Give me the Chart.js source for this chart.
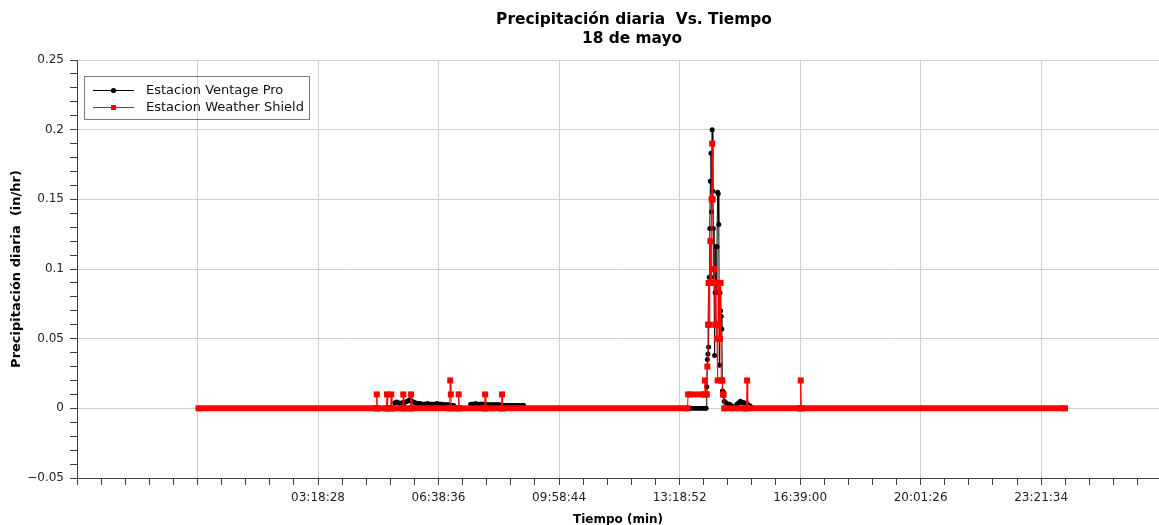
<!DOCTYPE html>
<html><head><meta charset="utf-8">
<script src="https://cdn.jsdelivr.net/npm/chart.js@4.4.1/dist/chart.umd.min.js"></script>
<style>html,body{margin:0;padding:0;background:#fff;}#wrap{width:1159px;height:525px;}</style>
</head><body><div id="wrap"><canvas id="c" width="1159" height="525"></canvas></div>
<script>
// ---- text ----
const chartTitle = ['Precipitación diaria  Vs. Tiempo', '18 de mayo'];
const xAxisTitle = 'Tiempo (min)';
const yAxisTitle = 'Precipitación diaria  (in/hr)';
const seriesNames = ['Estacion Ventage Pro', 'Estacion Weather Shield'];

// ---- axes (x in minutes of the day) ----
const xTickLabels = ['', '', '03:18:28', '06:38:36', '09:58:44', '13:18:52', '16:39:00', '20:01:26', '23:21:34'];
const xMin = -201.8, xMax = 1595, xMajorStep = 200.133, xMinorPerMajor = 5;
const yTickLabels = ['\u22120.05', '0', '0.05', '0.1', '0.15', '0.2', '0.25'];
const yMin = -0.05, yMax = 0.25, yMajorStep = 0.05, yMinorPerMajor = 5;

// ---- Estacion Ventage Pro (minute, in/hr) ----
const ventageTime = [0, 325, 326, 329, 332, 335, 338, 341, 344, 347, 350, 352, 354, 357, 360, 364, 368, 372, 376, 380, 384, 388, 392, 396, 400, 404, 408, 412, 416, 420, 424, 425,
  451, 452, 456, 460, 464, 468, 472, 476, 480, 484, 488, 492, 496, 500, 504, 508, 512, 516, 520, 524, 528, 532, 536, 540, 541,
  843, 844, 845, 846, 847, 848, 849, 850, 851, 852, 853, 854, 855, 856, 857, 858, 859, 860, 861, 862, 863, 864, 865, 866, 867, 868, 869, 870, 871, 872,
  873, 876, 879, 882, 885, 888, 889, 893, 894, 897, 900, 903, 906, 909, 912, 915, 918, 919, 1439];
const ventageValue = [0, 0, 0.004, 0.0045, 0.004, 0.0035, 0.004, 0.004, 0.0045, 0.005, 0.006, 0.006, 0.005, 0.0045, 0.004, 0.0035, 0.0035, 0.003, 0.003, 0.0035, 0.003, 0.003, 0.003, 0.0035, 0.003, 0.003, 0.0025, 0.0025, 0.0025, 0.002, 0.002, 0,
  0, 0.003, 0.003, 0.0035, 0.003, 0.003, 0.003, 0.003, 0.0025, 0.0025, 0.0025, 0.0025, 0.0025, 0.0025, 0.002, 0.002, 0.002, 0.002, 0.002, 0.002, 0.002, 0.002, 0.002, 0.002, 0,
  0, 0.0155, 0.035, 0.039, 0.044, 0.094, 0.129, 0.163, 0.183, 0.141, 0.2, 0.156, 0.129, 0.094, 0.038, 0.083, 0.116, 0.083, 0.116, 0.155, 0.154, 0.132, 0.031, 0.083, 0.07, 0.066, 0.057, 0.0124, 0.012, 0.009,
  0.005, 0.004, 0.003, 0.003, 0.002, 0.001, 0, 0, 0.003, 0.004, 0.005, 0.004, 0.004, 0.003, 0.003, 0.002, 0.001, 0, 0];

// ---- Estacion Weather Shield (minute, in/hr) ----
const shieldTime = [0, 295, 296, 297, 312, 313, 314, 319, 320, 321, 339, 340, 341, 352, 353, 354, 417, 418, 419, 420, 431, 432, 433, 475, 476, 477, 503, 504, 505,
  812, 813, 840, 841, 842, 844, 845, 846, 847, 848, 849, 850, 851, 852, 853, 854, 855, 856, 857, 858, 859, 860, 861, 862, 863, 864, 865, 866, 867, 868, 870, 871, 872, 873,
  910, 911, 912, 999, 1000, 1001, 1439];
const shieldValue = [0, 0, 0.01, 0, 0, 0.01, 0, 0, 0.01, 0, 0, 0.01, 0, 0, 0.01, 0, 0, 0.02, 0.01, 0, 0, 0.01, 0, 0, 0.01, 0, 0, 0.01, 0,
  0, 0.01, 0.01, 0.02, 0.01, 0.01, 0.03, 0.06, 0.09, 0.06, 0.09, 0.12, 0.09, 0.15, 0.19, 0.15, 0.09, 0.10, 0.09, 0.06, 0.09, 0.06, 0.05, 0.02, 0.09, 0.06, 0.09, 0.05, 0.09, 0.02, 0.02, 0.01, 0.01, 0,
  0, 0.02, 0, 0, 0.02, 0, 0];

const FONT = '"DejaVu Sans", sans-serif';
const black = '#000000', red = '#ff0000';

const overlay = {
  id: 'overlay',
  afterDraw(chart) {
    const ctx = chart.ctx, a = chart.chartArea;
    ctx.save();
    ctx.fillStyle = '#000';
    ctx.textAlign = 'center';
    ctx.textBaseline = 'alphabetic';
    ctx.font = 'bold 15.4px ' + FONT;
    ctx.fillText(chartTitle[0], 634, 24);
    ctx.fillText(chartTitle[1], 632, 43);
    ctx.font = 'bold 12px ' + FONT;
    ctx.fillText(xAxisTitle, (a.left + a.right) / 2, 523);
    ctx.save();
    ctx.translate(17, (a.top + a.bottom) / 2);
    ctx.rotate(-Math.PI / 2);
    ctx.textBaseline = 'middle';
    ctx.font = 'bold 13px ' + FONT;
    ctx.fillText(yAxisTitle, 0, 0);
    ctx.restore();
    // legend
    ctx.strokeStyle = '#7a7a7a';
    ctx.lineWidth = 1;
    ctx.strokeRect(84.5, 76.5, 225, 43);
    const rows = [{y: 90, c: black, s: 'circle'}, {y: 107, c: red, s: 'rect'}];
    rows.forEach((r, i) => {
      ctx.strokeStyle = r.c;
      ctx.beginPath(); ctx.moveTo(93, r.y + 0.5); ctx.lineTo(134, r.y + 0.5); ctx.stroke();
      ctx.fillStyle = r.c;
      if (r.s === 'circle') { ctx.beginPath(); ctx.arc(113.5, r.y + 0.5, 2.6, 0, Math.PI * 2); ctx.fill(); }
      else ctx.fillRect(111, r.y - 2, 5, 5);
      ctx.fillStyle = '#111';
      ctx.textAlign = 'left';
      ctx.textBaseline = 'middle';
      ctx.font = '13px ' + FONT;
      ctx.fillText(seriesNames[i], 146, r.y + 1);
    });
    ctx.restore();
  }
};

const toPts = (t, v) => t.map((x, i) => ({x: x, y: v[i]}));

new Chart(document.getElementById('c'), {
  type: 'line',
  data: {
    datasets: [
      {
        label: seriesNames[0], data: toPts(ventageTime, ventageValue), order: 1,
        borderColor: black, borderWidth: 1, backgroundColor: black,
        pointStyle: 'circle', pointRadius: 2.5, pointBackgroundColor: black, pointBorderWidth: 0,
        segment: { borderWidth: c => (c.p0.parsed.y === c.p1.parsed.y ? 4.6 : 1) }
      },
      {
        label: seriesNames[1], data: toPts(shieldTime, shieldValue), order: 0,
        borderColor: red, borderWidth: 1, backgroundColor: red,
        pointStyle: 'rect', pointRadius: 4.25, pointBackgroundColor: red, pointBorderWidth: 0,
        segment: { borderWidth: c => (c.p0.parsed.y === c.p1.parsed.y ? 6 : 1) }
      }
    ]
  },
  options: {
    responsive: false, animation: false, devicePixelRatio: 1, events: [],
    layout: { autoPadding: false, padding: { top: 60, right: 0, bottom: 0, left: 0 } },
    plugins: { legend: { display: false }, title: { display: false }, tooltip: { enabled: false } },
    scales: {
      x: {
        type: 'linear', min: xMin, max: xMax,
        afterBuildTicks: s => {
          const step = xMajorStep / xMinorPerMajor, t = [];
          for (let v = xMin; v <= xMax + 1e-6; v += step) t.push({value: v});
          s.ticks = t;
        },
        afterFit: s => { s.height = 47; s.paddingLeft = 0; s.paddingRight = 0; },
        border: { display: true, color: '#404040', width: 1 },
        grid: {
          color: c => (c.index % xMinorPerMajor === 0 ? '#cfcfcf' : 'rgba(0,0,0,0)'),
          tickColor: '#404040', tickLength: 7, lineWidth: 1, drawTicks: true
        },
        ticks: {
          autoSkip: false, maxRotation: 0, minRotation: 0, padding: 6, color: '#222',
          font: { family: FONT, size: 12 },
          callback: (v, i) => (i % xMinorPerMajor === 0 ? (xTickLabels[i / xMinorPerMajor] || '') : '')
        }
      },
      y: {
        type: 'linear', min: yMin, max: yMax,
        afterBuildTicks: s => {
          const n = Math.round((yMax - yMin) / (yMajorStep / yMinorPerMajor)), t = [];
          for (let j = 0; j <= n; j++) t.push({value: yMin + j * (yMajorStep / yMinorPerMajor)});
          s.ticks = t;
        },
        afterFit: s => { s.width = 77; s.paddingTop = 0; s.paddingBottom = 0; },
        border: { display: true, color: '#404040', width: 1 },
        grid: {
          color: c => (c.index % yMinorPerMajor === 0 ? '#cfcfcf' : 'rgba(0,0,0,0)'),
          tickColor: '#404040', tickLength: 7, lineWidth: 1, drawTicks: true
        },
        ticks: {
          autoSkip: false, padding: 6, color: '#222',
          font: { family: FONT, size: 12 },
          callback: (v, i) => (i % yMinorPerMajor === 0 ? (yTickLabels[i / yMinorPerMajor] || '') : '')
        }
      }
    }
  },
  plugins: [overlay]
});
</script>
</body></html>
